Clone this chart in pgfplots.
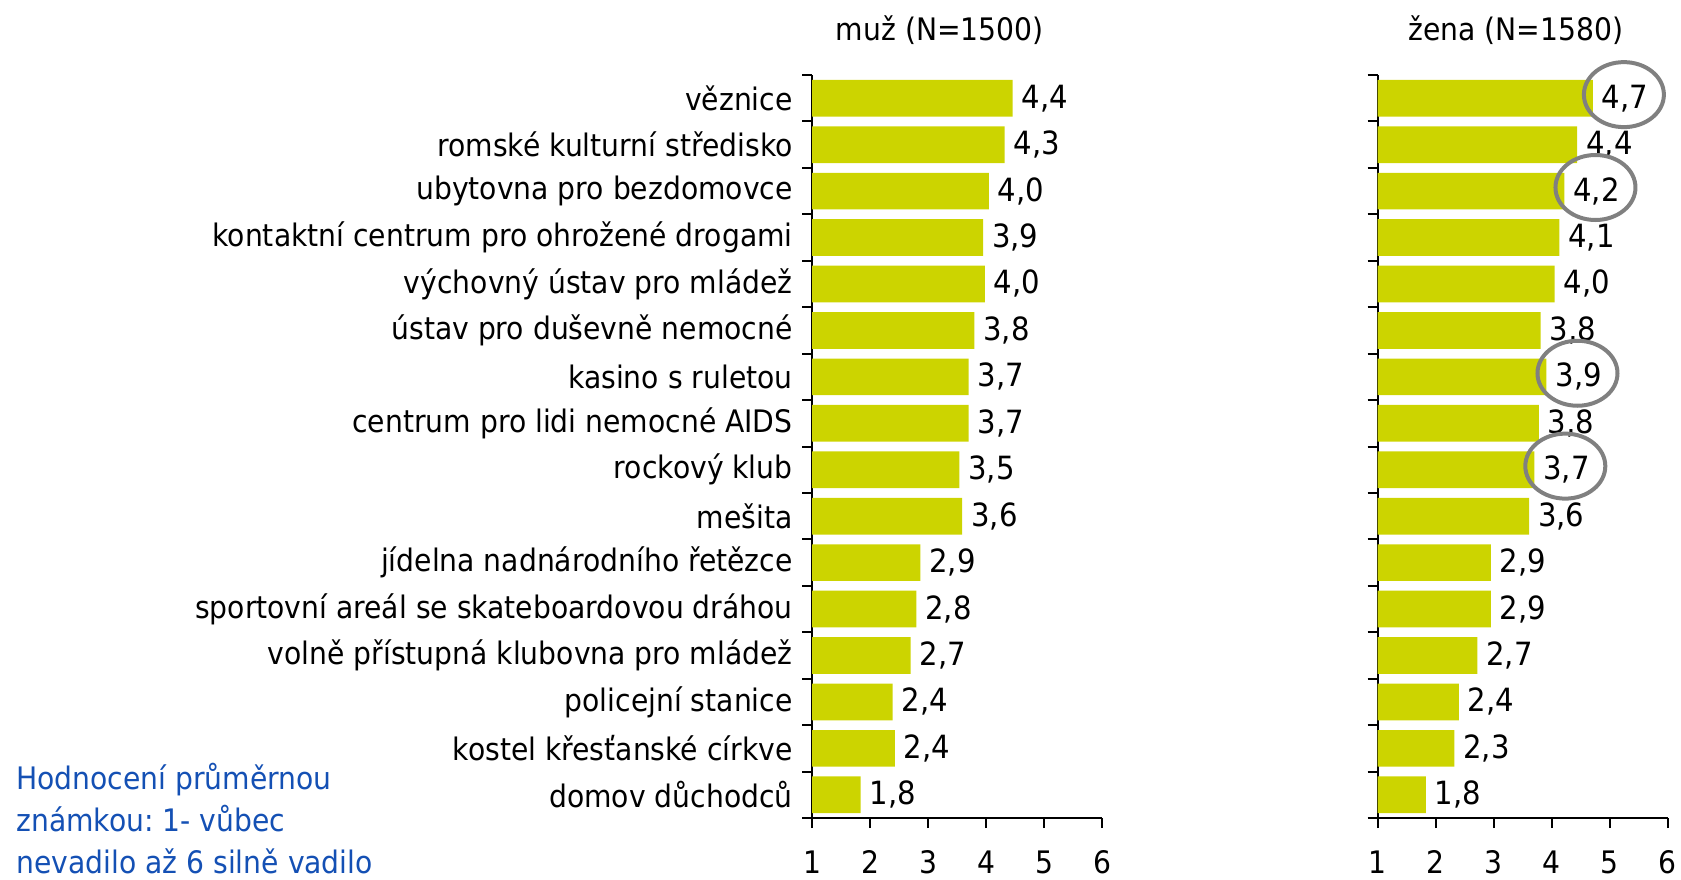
\documentclass[border=0pt]{standalone}
\usepackage{fontspec}
\setmainfont{DejaVu Sans}[FakeStretch=0.91]
\usepackage{pgfplots}
\usepackage{pgfplotstable}
\pgfplotsset{compat=1.18}
\usetikzlibrary{shapes.geometric}
\definecolor{barc}{RGB}{204,212,0}
\definecolor{notec}{RGB}{20,80,180}
\definecolor{ringc}{RGB}{128,128,128}
\frenchspacing

\pgfplotstableread{
idx muz muzlab zena zenalab
0  4.46 4.4 4.71 4.7
1  4.32 4.3 4.44 4.4
2  4.05 4.0 4.22 4.2
3  3.95 3.9 4.13 4.1
4  3.98 4.0 4.05 4.0
5  3.80 3.8 3.81 3.8
6  3.70 3.7 3.91 3.9
7  3.70 3.7 3.78 3.8
8  3.54 3.5 3.70 3.7
9  3.59 3.6 3.61 3.6
10 2.87 2.9 2.95 2.9
11 2.80 2.8 2.95 2.9
12 2.70 2.7 2.72 2.7
13 2.39 2.4 2.40 2.4
14 2.43 2.4 2.32 2.3
15 1.84 1.8 1.83 1.8
}\data

\pgfplotstableread{
idx val
0 4.71
2 4.22
6 3.91
8 3.70
}\rings

\pgfplotsset{
  myax/.style={
    scale only axis, width=145pt, height=371.5pt, anchor=south west,
    xmin=1, xmax=6, ymin=-0.5, ymax=15.5, y dir=reverse,
    axis x line=bottom, axis y line=left,
    axis line style={-, line width=1pt, black},
    xtick={1,...,6}, ytick={-0.5,0.5,...,15.5},
    y tick label as interval,
    tick align=outside, major tick length=5pt,
    tick style={line width=1pt, black},
    every tick label/.append style={font=\fontsize{15.5}{18}\selectfont},
    xticklabel style={inner sep=1pt, yshift=-10pt},
    /pgf/number format/assume math mode=true,
    title style={font=\fontsize{15.5}{18}\selectfont, anchor=center, at={(0.5,1)}, yshift=16.5pt},
  },
  vals/.style={
    xbar, bar shift=0pt, bar width=18.35pt, fill=barc, draw=none,
    point meta=explicit, nodes near coords,
    nodes near coords style={font=\fontsize{16}{19}\selectfont, anchor=west, inner sep=0pt, xshift=4.3pt,
      /pgf/number format/fixed, /pgf/number format/fixed zerofill,
      /pgf/number format/precision=1, /pgf/number format/use comma,
      /pgf/number format/assume math mode=true},
  },
}

\begin{document}
\begin{tikzpicture}
\useasboundingbox (0,0) rectangle (840.5pt,439.5pt);

\begin{axis}[myax, at={(406pt,30.5pt)},
  title={muž (N=1500)}, title style={xshift=-8.6pt},
  yticklabels={věznice, romské kulturní středisko, ubytovna pro bezdomovce,
    kontaktní centrum pro ohrožené drogami, výchovný ústav pro mládež,
    ústav pro duševně nemocné, kasino s ruletou, centrum pro lidi nemocné AIDS,
    rockový klub, mešita, jídelna nadnárodního řetězce,
    sportovní areál se skateboardovou dráhou, volně přístupná klubovna pro mládež,
    policejní stanice, kostel křesťanské církve, domov důchodců},
  yticklabel style={anchor=east, inner sep=0pt, xshift=-4.5pt},
]
\addplot[vals] table[x=muz, y=idx, meta=muzlab] {\data};
\end{axis}

\begin{axis}[myax, at={(688.85pt,30.5pt)},
  title={žena (N=1580)}, title style={xshift=-3.35pt},
  yticklabels={},
]
\addplot[vals] table[x=zena, y=idx, meta=zenalab] {\data};
\addplot[xbar, bar shift=0pt, bar width=18.35pt, draw=none, fill=none,
  nodes near coords={\phantom{0}},
  nodes near coords style={ellipse, draw=ringc, line width=2pt, minimum width=40pt,
    minimum height=32.5pt, inner sep=0pt, anchor=center, xshift=15.5pt, yshift=1.8pt}]
  table[x=val, y=idx] {\rings};
\end{axis}

\begin{scope}[every node/.style={anchor=base west, inner sep=0pt, text=notec, font=\fontsize{15.5}{18}\selectfont}]
\node at (8pt,45pt) {Hodnocení průměrnou};
\node at (8pt,23.6pt) {známkou: 1- vůbec};
\node at (8pt,3pt) {nevadilo až 6 silně vadilo};
\end{scope}
\end{tikzpicture}
\end{document}
